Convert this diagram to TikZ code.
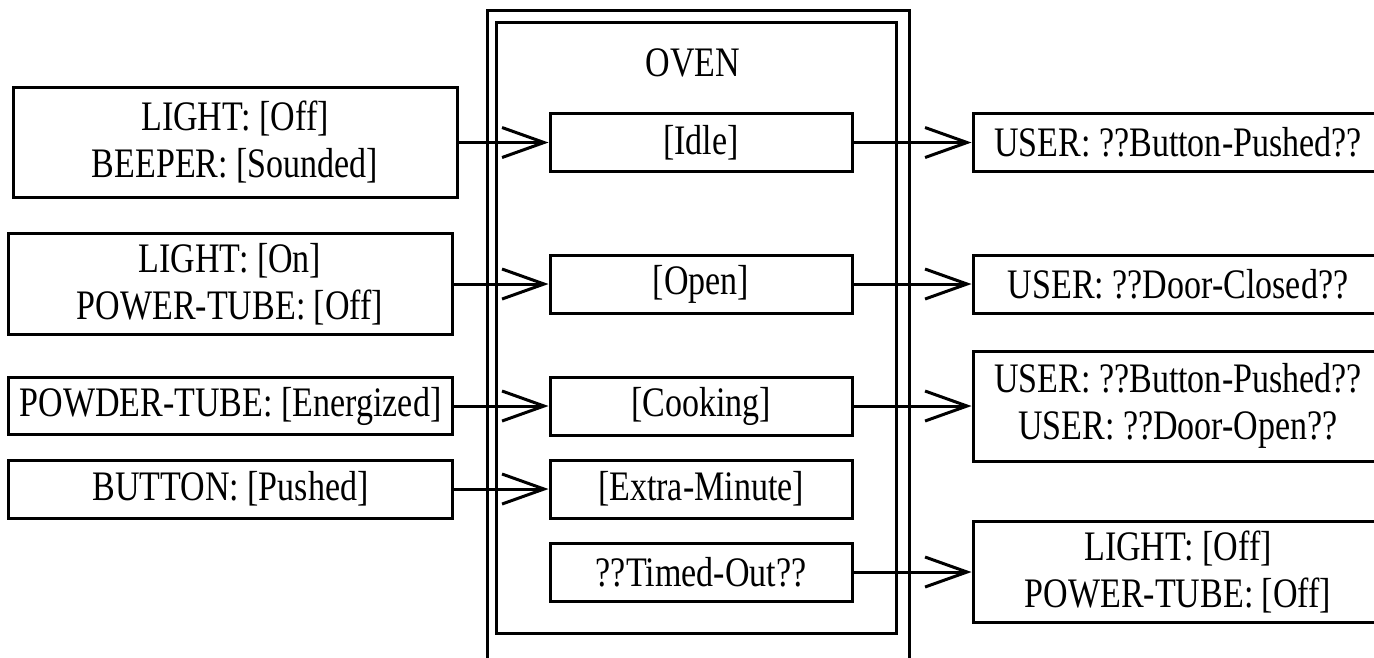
\documentclass[tikz,border=0pt]{standalone}
\usepackage{fontspec}
\setmainfont{Liberation Serif}[FakeStretch=0.81]
\usetikzlibrary{arrows.meta}

\begin{document}
\begin{tikzpicture}[x=0.3pt, y=-0.3pt, line width=0.9pt, font=\fontsize{12.6}{14.1}\selectfont,
state node/.style={draw, rectangle, minimum width=90.6pt, minimum height=17.4pt, inner sep=0pt},
side node/.style={draw, rectangle, align=center, minimum width=133.2pt, inner sep=0pt},
out node/.style={draw, rectangle, align=center, minimum width=123pt, inner sep=0pt},
arr/.style={-{Straight Barb[length=12.6pt, width=9pt]}}]
\useasboundingbox (0,0) rectangle (1374,657);
\clip (0,0) rectangle (1374,657);
\draw (487,10) rectangle (909,700);
\draw (496,22) rectangle (896,633);
\node (0) at (693,63) {OVEN};
\node[side node, minimum height=33pt] (1) at (235,142.5) {LIGHT: [Off]\\BEEPER: [Sounded]};
\node[side node, minimum height=30.3pt] (2) at (230,284) {LIGHT: [On]\\POWER-TUBE: [Off]};
\node[side node, minimum height=17.1pt] (3) at (230.5,406) {POWDER-TUBE: [Energized]};
\node[side node, minimum height=17.4pt] (4) at (230.5,489) {BUTTON: [Pushed]};
\node[state node] (5) at (701,142.5) {[Idle]};
\node[state node] (6) at (701,284) {[Open]};
\node[state node] (7) at (701,406) {[Cooking]};
\node[state node] (8) at (701,489) {[Extra-Minute]};
\node[state node] (9) at (701,572) {??Timed-Out??};
\node[out node, minimum height=17.4pt] (10) at (1178,142.5) {USER: ??Button-Pushed??};
\node[out node, minimum height=17.4pt] (11) at (1178,284) {USER: ??Door-Closed??};
\node[out node, minimum height=33pt] (12) at (1178,406) {USER: ??Button-Pushed??\\USER: ??Door-Open??};
\node[out node, minimum height=30.3pt] (13) at (1178,572) {LIGHT: [Off]\\POWER-TUBE: [Off]};
\path[arr]
(1) edge (5)
(2) edge (6)
(3) edge (7)
(4) edge (8)
(5) edge (10)
(6) edge (11)
(7) edge (12)
(9) edge (13);
\end{tikzpicture}
\end{document}
